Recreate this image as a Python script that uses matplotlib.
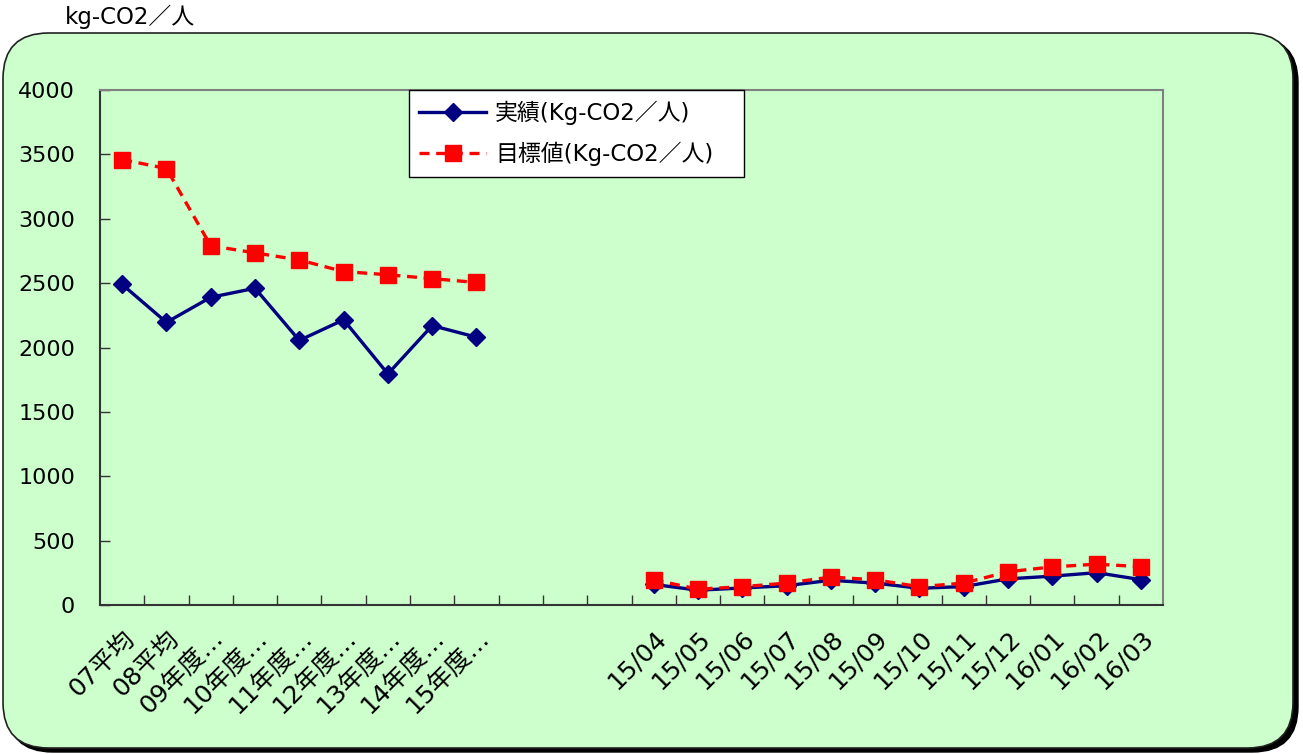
import matplotlib
matplotlib.use("Agg")
import matplotlib.pyplot as plt
from matplotlib.patches import FancyBboxPatch
import numpy as np

FAM = ['DejaVu Sans', 'Noto Sans CJK JP']
plt.rcParams['font.family'] = FAM

categories = ["07平均", "08平均", "09年度…", "10年度…", "11年度…", "12年度…",
              "13年度…", "14年度…", "15年度…", "", "", "",
              "15/04", "15/05", "15/06", "15/07", "15/08", "15/09",
              "15/10", "15/11", "15/12", "16/01", "16/02", "16/03"]
actual = [2490, 2195, 2390, 2460, 2055, 2215, 1795, 2170, 2080,
          None, None, None,
          160, 115, 132, 150, 192, 170, 130, 143, 203, 224, 251, 197]
target = [3460, 3390, 2790, 2735, 2680, 2590, 2565, 2535, 2505,
          None, None, None,
          196, 123, 142, 170, 217, 196, 142, 170, 258, 296, 317, 298]
label_actual = "実績(Kg-CO2／人)"
label_target = "目標値(Kg-CO2／人)"
unit_label = "kg-CO2／人"
yticks = [0, 500, 1000, 1500, 2000, 2500, 3000, 3500, 4000]

W, H = 1303, 754
fig = plt.figure(figsize=(W / 100, H / 100), dpi=100)
fig.patch.set_facecolor('white')

# background rounded box with shadow
shadow = FancyBboxPatch((7 / W, 1 - 752 / H), (1298 - 7) / W, (752 - 37) / H,
                        boxstyle="round,pad=0,rounding_size=0.035",
                        transform=fig.transFigure, facecolor='black',
                        edgecolor='black', linewidth=1, mutation_aspect=W / H,
                        zorder=-10)
fig.patches.append(shadow)
box = FancyBboxPatch((3 / W, 1 - 748 / H), (1293 - 3) / W, (748 - 33) / H,
                     boxstyle="round,pad=0,rounding_size=0.035",
                     transform=fig.transFigure, facecolor='#CCFFCC',
                     edgecolor='#222222', linewidth=1.2, mutation_aspect=W / H,
                     zorder=-9)
fig.patches.append(box)

ax = fig.add_axes([100 / W, 1 - 605 / H, (1163 - 100) / W, (605 - 90) / H])
ax.set_facecolor('none')
ax.set_zorder(5)

x = np.arange(len(categories))
a = np.array([np.nan if v is None else v for v in actual], dtype=float)
t = np.array([np.nan if v is None else v for v in target], dtype=float)

ax.plot(x, a, color='#000080', linewidth=2.4, marker='D', markersize=9,
        markerfacecolor='#000080', markeredgecolor='#000080', label=label_actual, zorder=3)
ax.plot(x, t, color='#FF0000', linewidth=2.4, linestyle=(0, (3, 2)), marker='s',
        markersize=12, markerfacecolor='#FF0000', markeredgecolor='#FF0000',
        label=label_target, zorder=4)

ax.set_xlim(-0.5, len(categories) - 0.5)
ax.set_ylim(0, 4000)
ax.set_yticks(yticks)
ax.set_yticklabels([str(v) for v in yticks], fontsize=16)
ax.tick_params(axis='y', direction='in', length=7, width=1, color='#333333', pad=18)

ax.set_xticks(x)
ax.set_xticklabels(categories, fontsize=18, rotation=45, ha='right', va='top',
                   rotation_mode='anchor')
ax.tick_params(axis='x', which='major', length=0, pad=15)
ax.set_xticks(np.arange(0.5, len(categories) - 1, 1.0), minor=True)
ax.tick_params(axis='x', which='minor', direction='in', length=7, width=1, color='#333333')

for s in ['left', 'bottom']:
    ax.spines[s].set_color('#333333')
    ax.spines[s].set_linewidth(1.5)
for s in ['top', 'right']:
    ax.spines[s].set_color('#808080')
    ax.spines[s].set_linewidth(1.5)

leg = ax.legend(loc='upper left', bbox_to_anchor=(309 / 1063, 0.0, (744 - 409) / 1063, 1.0),
                mode='expand', fontsize=16.5,
                frameon=True, fancybox=False, handlelength=2.9, borderpad=0.45,
                labelspacing=0.75, handletextpad=0.4, borderaxespad=0)
leg.get_frame().set_edgecolor('black')
leg.get_frame().set_linewidth(1)
leg.get_frame().set_facecolor('white')
leg.get_frame().set_alpha(1)

fig.text(65 / W, 1 - 17 / H, unit_label, fontsize=16.5, ha='left', va='center')

fig.savefig("out.png", dpi=100)
